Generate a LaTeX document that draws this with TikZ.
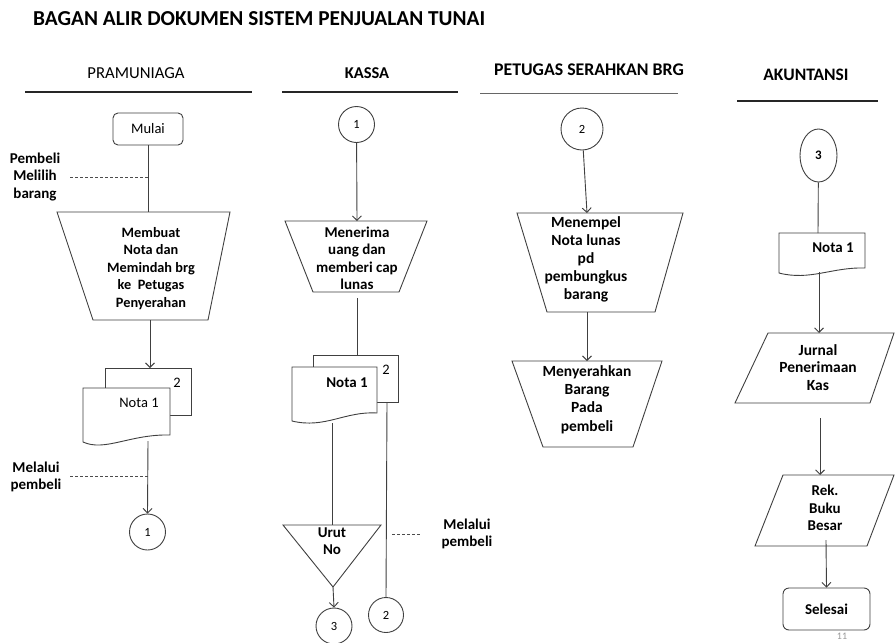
\documentclass[tikz,border=0pt]{standalone}
\usepackage{fontspec}
\setmainfont{Carlito}
\usetikzlibrary{arrows.meta,shapes.geometric}
\begin{document}
\begin{tikzpicture}[x=1pt,y=-1pt,
  ln/.style={draw=black!75, line width=0.9pt},
  arr/.style={ln, -{Straight Barb[length=4.5pt,width=9pt]}},
  dsh/.style={draw=black!70, line width=0.8pt, dash pattern=on 3pt off 2pt},
  box/.style={ln, fill=white},
  txt/.style={font=\fontsize{15}{17.5}\selectfont\bfseries, align=center, inner sep=0pt},
  txta/.style={font=\fontsize{14.3}{17.5}\selectfont\bfseries, align=center, inner sep=0pt},
  ntxt/.style={font=\fontsize{14.5}{17.5}\selectfont, align=center, inner sep=0pt},
  circ/.style={ln, circle, fill=white, minimum size=36pt, inner sep=0pt, font=\fontsize{12.5}{14}\selectfont},
  term/.style={ln, fill=white, rounded corners=5pt, minimum width=70pt, minimum height=32pt, inner sep=0pt, font=\fontsize{14.5}{16}\selectfont},
  hline/.style={draw=black!85, line width=1.6pt},
]
\useasboundingbox[fill=white] (0,0) rectangle (895,643);

% title
\node[anchor=west, font=\fontsize{21.3}{24}\selectfont\bfseries, inner sep=0pt] (title) at (33,19) {BAGAN ALIR DOKUMEN SISTEM PENJUALAN TUNAI};

% ===== PRAMUNIAGA =====
\node[font=\fontsize{16.7}{19}\selectfont, inner sep=0pt] (h1) at (136,73) {PRAMUNIAGA};
\draw[hline] (25,92) -- (252,92);
\node[term] (mulai) at (148,129) {Mulai};
\draw[box] (57,212) -- (230,212) -- (208,320) -- (93,320) -- cycle;
\coordinate (t1n) at (150,212);
\coordinate (t1s) at (150,320);
\node[txta] (t1) at (151,268.5) {Membuat\\Nota dan\\Memindah brg\\ke~~Petugas\\Penyerahan};
\draw[ln] (mulai.south) -- (mulai.south |- t1n);
\coordinate (dl1) at (70,177);
\draw[dsh] (dl1) -- (dl1 -| mulai.south);
\node[txt] (lbl1) at (35,177) {Pembeli\\Melilih\\barang};
% documents
\draw[box] (105,368) rectangle (191,415);
\node[ntxt] (d1b) at (177,383) {2};
\draw[box] (83,388) -- (170,388) -- (170,435) .. controls (130,434) and (105,452) .. (83,442) -- cycle;
\node[ntxt] (d1) at (139,403) {Nota 1};
\coordinate (d1n) at (150,368);
\coordinate (d1s) at (148,441);
\draw[arr] (t1s) -- (d1n);
\node[circ] (c1a) at (147.5,532) {1};
\draw[arr] (d1s) -- (c1a.north);
\coordinate (dl2) at (70,476);
\draw[dsh] (dl2) -- (dl2 -| d1s);
\node[txt] (lbl2) at (36,477) {Melalui\\pembeli};

% ===== KASSA =====
\node[font=\fontsize{16.5}{19}\selectfont\bfseries, inner sep=0pt] (h2) at (367,73) {KASSA};
\draw[hline] (282,92) -- (458,92);
\node[circ] (c1b) at (356.5,124.5) {1};
\draw[box] (285,221) -- (427,221) -- (399,292) -- (313,292) -- cycle;
\coordinate (t2n) at (357,221);
\coordinate (t2s) at (357,298);
\node[txt] (t2) at (357,258.5) {Menerima\\uang dan\\memberi cap\\lunas};
\draw[arr] (c1b) -- (t2n);
\draw[box] (313,355) rectangle (398,402);
\node[ntxt] (d2b) at (386,370) {2};
\draw[box] (292,367) -- (377,367) -- (377,413) .. controls (345,411) and (325,429) .. (292,421) -- cycle;
\node[txt] (d2) at (347,383) {Nota 1};
\coordinate (d2bn) at (357,355);
\coordinate (d2s) at (332,423);
\coordinate (d2bs) at (387,402);
\draw[ln] (t2s) -- (d2bn);
\draw[box] (283,525) -- (381,525) -- (333,587) -- cycle;
\coordinate (trin) at (332,525);
\coordinate (tris) at (333,587);
\node[txt] (tri) at (332,541) {Urut\\No};
\draw[ln] (d2s) -- (trin);
\node[circ] (c3a) at (334,626) {3};
\draw[arr] (tris) -- (c3a.north);
\node[circ, minimum size=35pt] (c2a) at (386,615) {2};
\draw[ln] (d2bs) -- (c2a.north);
\coordinate (dl3) at (420,534);
\draw[dsh] (392,534) -- (dl3);
\node[txt] (lbl3) at (467,534) {Melalui\\pembeli};

% ===== PETUGAS SERAHKAN BRG =====
\node[font=\fontsize{17.8}{20}\selectfont\bfseries, inner sep=0pt] (h3) at (589,70) {PETUGAS SERAHKAN BRG};
\draw[draw=black!60, line width=1pt] (480,93) -- (678,93);
\node[circ, minimum size=42pt] (c2b) at (582,129) {2};
\draw[box] (517,213) -- (683,213) -- (655,312) -- (547,312) -- cycle;
\coordinate (t3n) at (587,213);
\coordinate (t3s) at (587,312);
\node[txt, font=\fontsize{15.5}{18}\selectfont\bfseries] (t3) at (586,259) {Menempel\\Nota lunas\\pd\\pembungkus\\barang};
\draw[arr] (c2b) -- (t3n);
\draw[box] (512,361) -- (662,361) -- (633,447) -- (543,447) -- cycle;
\coordinate (t4n) at (587,361);
\node[txt, font=\fontsize{15.5}{18.3}\selectfont\bfseries] (t4) at (587,399.5) {Menyerahkan\\Barang\\Pada\\pembeli};
\draw[arr] (t3s) -- (t4n);

% ===== AKUNTANSI =====
\node[font=\fontsize{17.5}{20}\selectfont\bfseries, inner sep=0pt] (h4) at (806,75) {AKUNTANSI};
\draw[hline] (737,101) -- (878,101);
\node[ln, ellipse, fill=white, minimum width=37pt, minimum height=53pt, inner sep=0pt, font=\fontsize{13}{14}\selectfont\bfseries] (e3) at (818.5,155.5) {3};
\draw[box] (779,233) -- (865,233) -- (865,268) .. controls (832,267) and (810,281) .. (779,273) -- cycle;
\node[txt] (d3) at (833,248) {Nota 1};
\coordinate (d3n) at (818,233);
\coordinate (d3s) at (819,272);
\draw[ln] (e3) -- (d3n);
\draw[box] (768,333) -- (894,333) -- (870,403) -- (735,403) -- cycle;
\node[txt, font=\fontsize{15.5}{17.5}\selectfont\bfseries] (p1) at (818,367.5) {Jurnal\\Penerimaan\\Kas};
\coordinate (p1n) at (819,333);
\coordinate (p1s) at (820,418);
\draw[arr] (d3s) -- (p1n);
\draw[box] (783,475) -- (894,475) -- (867,546) -- (755,546) -- cycle;
\node[txt] (p2) at (825,508) {Rek.\\Buku\\Besar};
\coordinate (p2n) at (820,475);
\coordinate (p2s) at (826,540);
\draw[arr] (p1s) -- (p2n);
\node[font=\fontsize{10}{12}\selectfont, text=black!40, inner sep=0pt] (pg) at (842,636) {11};
\node[term, minimum width=87pt, minimum height=42pt, rounded corners=6pt, font=\fontsize{15}{16}\selectfont\bfseries] (sel) at (826.5,609) {Selesai};
\draw[arr] (p2s) -- (sel.north);
\end{tikzpicture}
\end{document}
